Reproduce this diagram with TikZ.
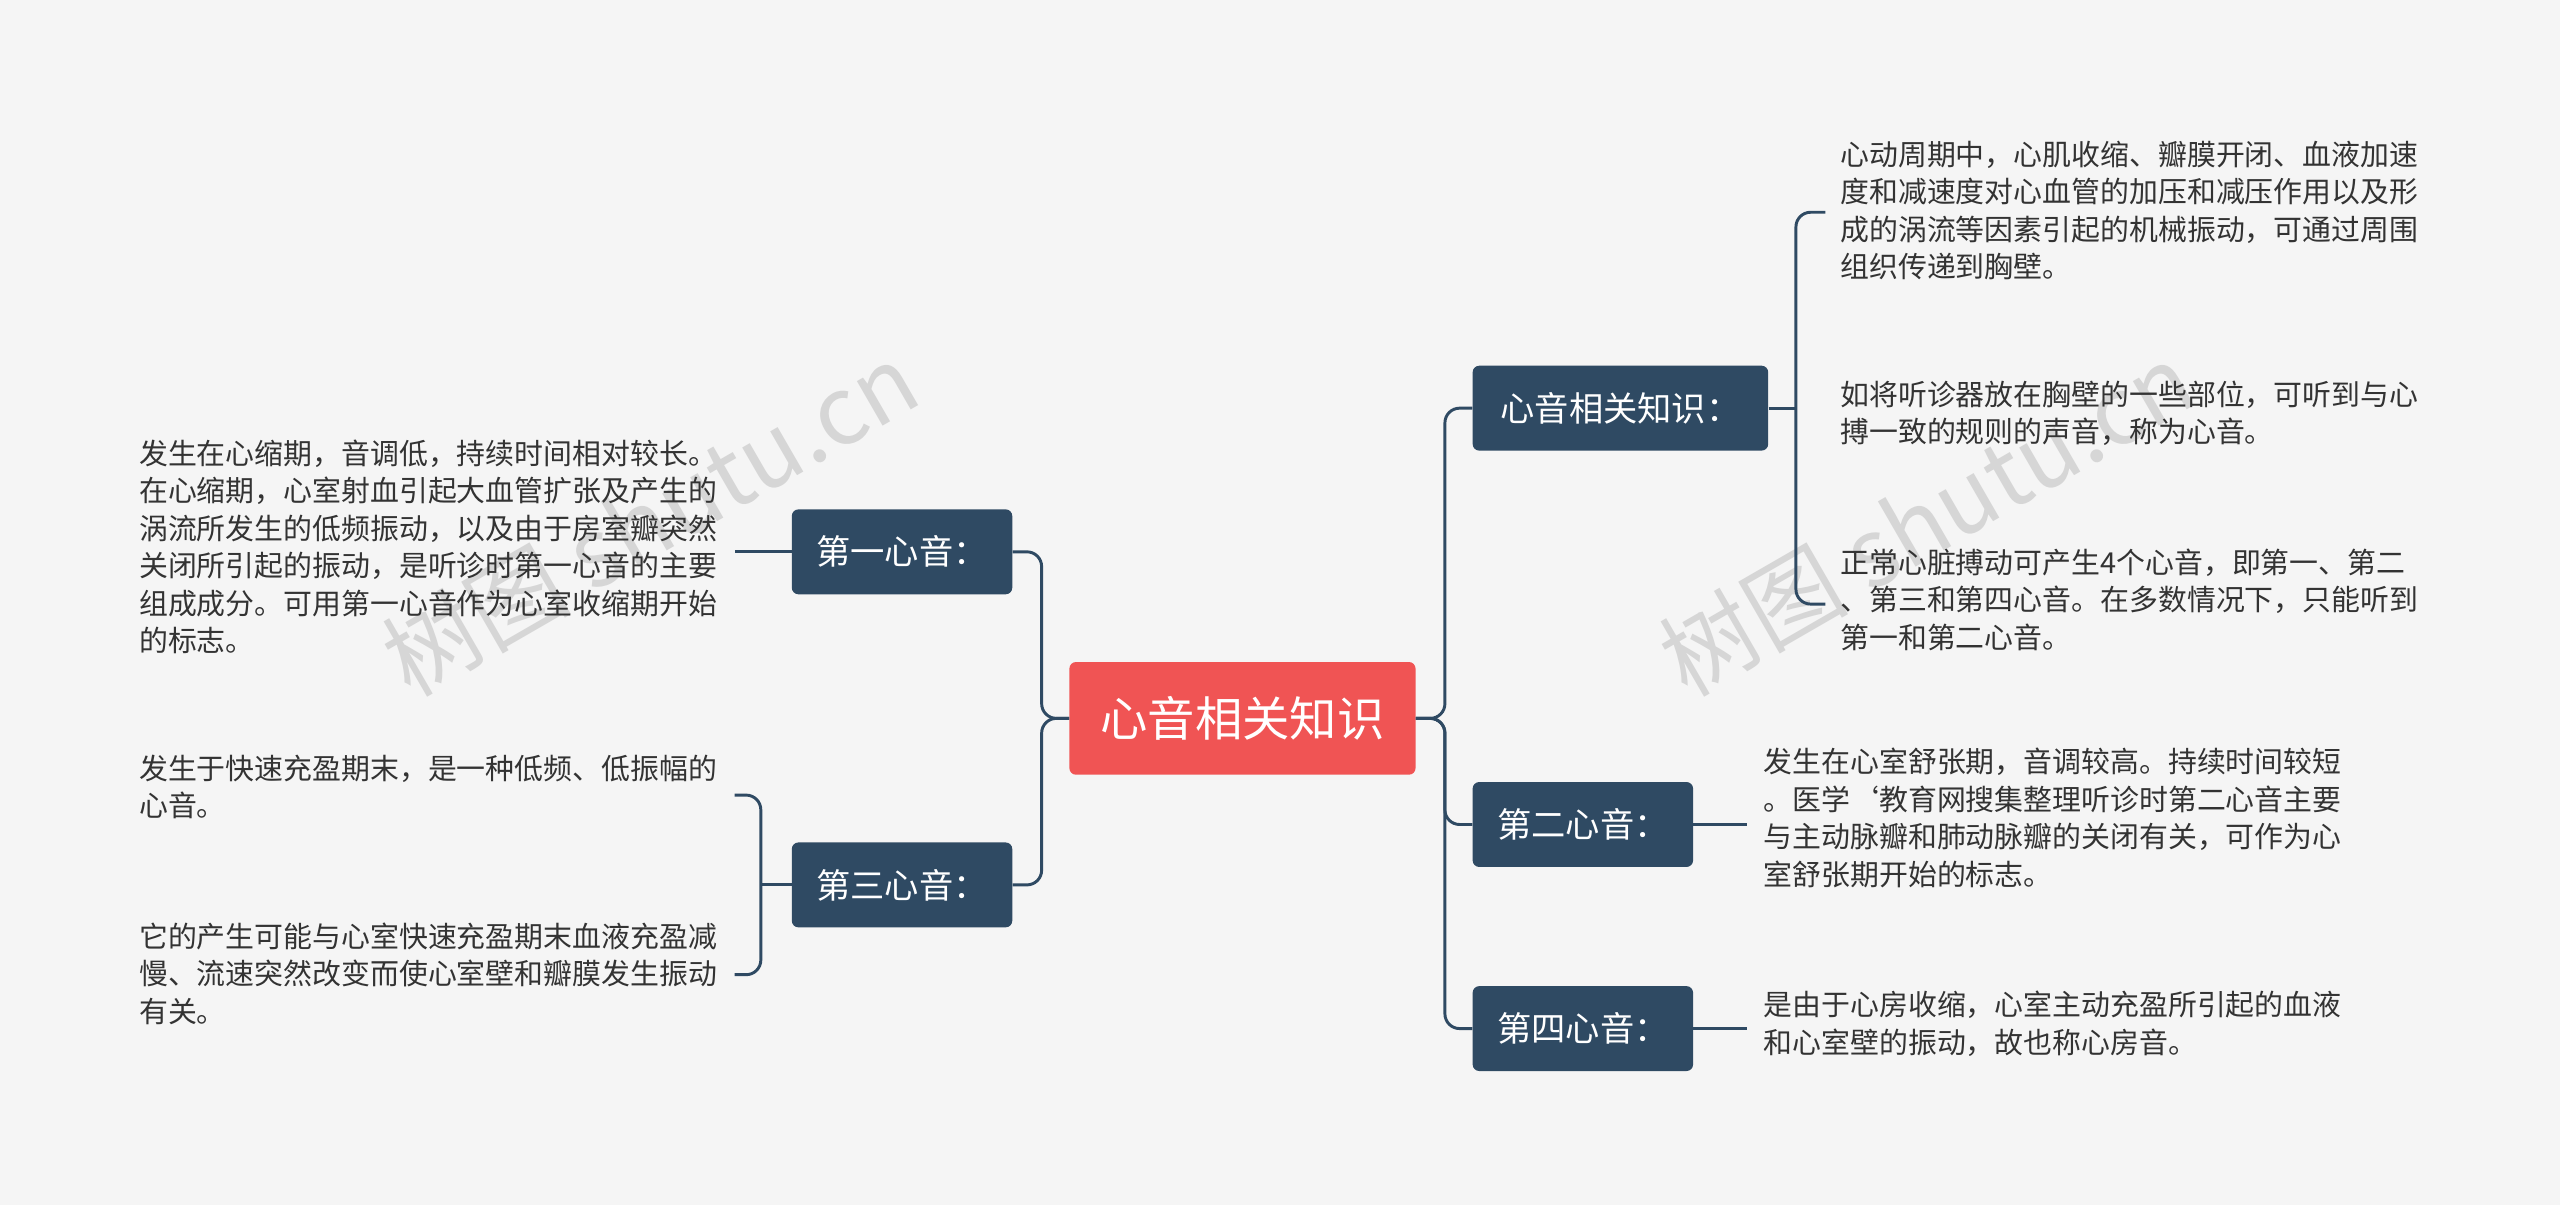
\documentclass[tikz,border=0pt]{standalone}
\usepackage{fontspec}
\setmainfont{Noto Sans CJK SC}
\begin{document}
\begin{tikzpicture}[x=1pt,y=-1pt,
  lnk/.style={draw=lk,line width=1.8pt,rounded corners=9pt},
  topic/.style={fill=nd,rounded corners=4pt,text=white,font=\fontsize{21}{24}\selectfont,inner sep=0pt,minimum height=52pt},
  leaf/.style={text=tx,font=\fontsize{17.7}{23}\selectfont,align=left,inner sep=0pt,anchor=north west},
  wm/.style={text=black!16,font=\fontsize{58}{64}\selectfont,rotate=30}]
\definecolor{lk}{HTML}{2F4A63}
\definecolor{nd}{HTML}{2F4A63}
\definecolor{tx}{HTML}{333333}
\definecolor{bg}{HTML}{F5F5F5}
\definecolor{rd}{HTML}{F05454}
\fill[bg] (0,0) rectangle (1568,738);
\useasboundingbox (0,0) rectangle (1568,738);
\node[wm] (w1) at (398,318) {树图 shutu.cn};
\node[wm] (w2) at (1180,318) {树图 shutu.cn};
\node[fill=rd,rounded corners=4pt,text=white,font=\fontsize{29}{32}\selectfont,minimum width=212pt,minimum height=69pt,inner sep=0pt] (c) at (761,440) {心音相关知识};
\node[topic,minimum width=181pt] (r1) at (992.5,250) {心音相关知识：};
\node[topic,minimum width=135pt] (r2) at (969.5,505) {第二心音：};
\node[topic,minimum width=135pt] (r3) at (969.5,630) {第四心音：};
\node[topic,minimum width=135pt] (l1) at (552.5,338) {第一心音：};
\node[topic,minimum width=135pt] (l2) at (552.5,542) {第三心音：};
\coordinate (rj) at (885,440);
\coordinate (lj) at (638,440);
\draw[lnk] (c.east) -- (rj) |- (r1.west);
\draw[lnk] (c.east) -- (rj) |- (r2.west);
\draw[lnk] (c.east) -- (rj) |- (r3.west);
\draw[lnk] (c.west) -- (lj) |- (l1.east);
\draw[lnk] (c.west) -- (lj) |- (l2.east);
% right group 1
\coordinate (b1) at (1100,250);
\coordinate (b1t) at (1118,130);
\coordinate (b1b) at (1118,370);
\draw[lnk] (r1.east) -- (b1);
\draw[lnk] (b1t) -| (b1) |- (b1b);
\node[leaf] (t1) at (1127,86) {心动周期中，心肌收缩、瓣膜开闭、血液加速\\度和减速度对心血管的加压和减压作用以及形\\成的涡流等因素引起的机械振动，可通过周围\\组织传递到胸壁。};
\node[leaf] (t2) at (1127,233) {如将听诊器放在胸壁的一些部位，可听到与心\\搏一致的规则的声音，称为心音。};
\node[leaf] (t3) at (1127,336) {正常心脏搏动可产生4个心音，即第一、第二\\、第三和第四心音。在多数情况下，只能听到\\第一和第二心音。};
% right 2,3
\coordinate (e2) at (1070,505);
\coordinate (e3) at (1070,630);
\draw[lnk] (r2.east) -- (e2);
\draw[lnk] (r3.east) -- (e3);
\node[leaf] (t4) at (1080,458) {发生在心室舒张期，音调较高。持续时间较短\\。医学`教育网搜集整理听诊时第二心音主要\\与主动脉瓣和肺动脉瓣的关闭有关，可作为心\\室舒张期开始的标志。};
\node[leaf] (t5) at (1080,607) {是由于心房收缩，心室主动充盈所引起的血液\\和心室壁的振动，故也称心房音。};
% left 1
\coordinate (e1) at (450,338);
\draw[lnk] (l1.west) -- (e1);
\node[leaf] (t6) at (85,269) {发生在心缩期，音调低，持续时间相对较长。\\在心缩期，心室射血引起大血管扩张及产生的\\涡流所发生的低频振动，以及由于房室瓣突然\\关闭所引起的振动，是听诊时第一心音的主要\\组成成分。可用第一心音作为心室收缩期开始\\的标志。};
% left 2
\coordinate (b2) at (466,542);
\coordinate (b2t) at (450,487);
\coordinate (b2b) at (450,597);
\draw[lnk] (l2.west) -- (b2);
\draw[lnk] (b2t) -| (b2) |- (b2b);
\node[leaf] (t7) at (85,462) {发生于快速充盈期末，是一种低频、低振幅的\\心音。};
\node[leaf] (t8) at (85,565) {它的产生可能与心室快速充盈期末血液充盈减\\慢、流速突然改变而使心室壁和瓣膜发生振动\\有关。};
\end{tikzpicture}
\end{document}
